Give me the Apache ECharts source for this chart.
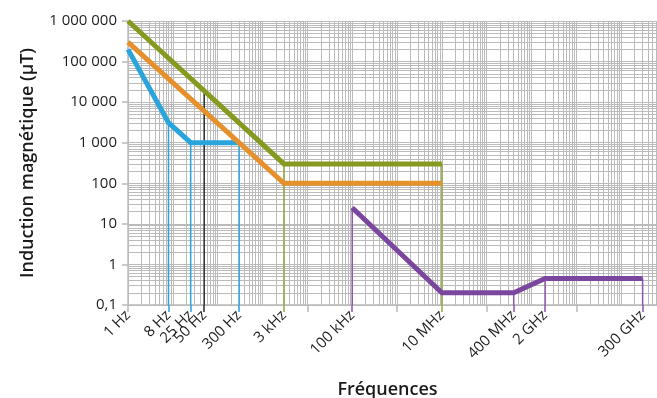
<!DOCTYPE html>
<html><head><meta charset="utf-8">
<script src="https://cdn.jsdelivr.net/npm/echarts@6/dist/echarts.min.js"></script>
<style>html,body{margin:0;padding:0;background:#fff}#c{width:657px;height:398px}</style>
</head><body><div id="c"></div>
<script>
// ---- axis ticks / labels ----
const freqTickValues = [1, 8, 25, 50, 300, 3000, 1e5, 1e7, 4e8, 2e9, 3e11];
const freqTickLabels = ['1 Hz', '8 Hz', '25 Hz', '50 Hz', '300 Hz', '3 kHz', '100 kHz', '10 MHz', '400 MHz', '2 GHz', '300 GHz'];
const yTickValues = [0.1, 1, 10, 100, 1000, 1e4, 1e5, 1e6];
const yTickLabels = ['0,1', '1', '10', '100', '1 000', '10 000', '100 000', '1 000 000'];
const grayTickFreqs = [1, 1e4, 1e6, 1e8, 1e10];

// ---- series (frequency in Hz, induction in µT) ----
const blueFreq = [1, 8, 25, 300];
const blueB = [200000, 3125, 1000, 1000];
const orangeFreq = [1, 3000, 1e7];
const orangeB = [300000, 100, 100];
const greenFreq = [1, 3000, 1e7];
const greenB = [1000000, 300, 300];
const purpleFreq = [1e5, 1e7, 4e8, 2e9, 3e11];
const purpleB = [25, 0.2, 0.2, 0.45, 0.45];

// ---- vertical drop lines ----
const blueDropFreq = [8, 25, 300];
const blueDropB = [3125, 1000, 1000];
const blackDropFreq = [50];
const blackDropB = [20000];
const greenDropFreq = [3000, 1e7];
const greenDropB = [300, 300];
const purpleDropFreq = [1e5, 4e8, 2e9, 3e11];
const purpleDropB = [25, 0.2, 0.45, 0.45];

const X_MIN = 1, X_MAX = 6.27e11, Y_MIN = 0.1, Y_MAX = 1e6;
const FONT = 'Open Sans';
const C_BLUE = '#2aa4dc', C_ORANGE = '#e6902b', C_GREEN = '#879a1f', C_PURPLE = '#7b479e';
const C_GRID = '#bbbbbb';

// log grid positions (1..9 per decade)
const gridX = [];
for (let d = 0; d <= 11; d++) for (let m = 1; m <= 9; m++) { const v = m * Math.pow(10, d); if (v <= X_MAX) gridX.push(v); }
const gridY = [];
for (let d = -1; d <= 5; d++) for (let m = 1; m <= 9; m++) gridY.push(+(m * Math.pow(10, d)).toPrecision(6));
gridY.push(1e6);

function findLabel(vals, labs, v) {
  const i = vals.findIndex(t => Math.abs(Math.log10(t) - Math.log10(v)) < 1e-6);
  return i >= 0 ? labs[i] : '';
}
const zip = (a, b) => a.map((x, i) => [x, b[i]]);

function tickAxis(values, color) {
  return {
    type: 'log', logBase: 10, min: X_MIN, max: X_MAX, position: 'bottom',
    axisLine: { show: false }, axisLabel: { show: false }, splitLine: { show: false },
    axisTick: { show: true, customValues: values, length: 7, lineStyle: { color: color, width: 1.5 } }
  };
}

const series = [];
function dropSeries(fs, bs, color, width) {
  fs.forEach((f, i) => {
    series.push({
      type: 'line', xAxisIndex: 0, yAxisIndex: 0, symbol: 'none', silent: true, z: 1,
      lineStyle: { color: color, width: width },
      data: [[f, bs[i]], [f, Y_MIN]]
    });
  });
}
dropSeries(blueDropFreq, blueDropB, C_BLUE, 1.5);
dropSeries(blackDropFreq, blackDropB, '#2b2b2b', 1.5);
dropSeries(greenDropFreq, greenDropB, '#97a83a', 1.5);
dropSeries(purpleDropFreq, purpleDropB, '#8a55ab', 1.5);

function mainSeries(fs, bs, color) {
  series.push({
    type: 'line', xAxisIndex: 0, yAxisIndex: 0, symbol: 'none', z: 3,
    lineStyle: { color: color, width: 5, cap: 'butt', join: 'miter' },
    data: zip(fs, bs)
  });
}
mainSeries(blueFreq, blueB, C_BLUE);
mainSeries(orangeFreq, orangeB, C_ORANGE);
mainSeries(greenFreq, greenB, C_GREEN);
mainSeries(purpleFreq, purpleB, C_PURPLE);

const chart = echarts.init(document.getElementById('c'), null, { renderer: 'canvas' });
chart.setOption({
  animation: false,
  backgroundColor: '#ffffff',
  grid: { left: 128, right: 0, top: 21, bottom: 93, containLabel: false, outerBoundsMode: 'none' },
  xAxis: [
    {
      type: 'log', logBase: 10, min: X_MIN, max: X_MAX, position: 'bottom',
      axisLine: { show: true, lineStyle: { color: C_GRID, width: 1.5 } },
      axisTick: { show: true, customValues: grayTickFreqs, length: 7, lineStyle: { color: C_GRID, width: 1.5 } },
      axisLabel: {
        show: true, customValues: freqTickValues, rotate: 45, margin: 8,
        fontFamily: FONT, fontSize: 15, color: '#1e1e1e',
        formatter: v => findLabel(freqTickValues, freqTickLabels, v)
      },
      splitLine: { show: false },
      name: 'Fréquences', nameLocation: 'middle', nameGap: 76,
      nameTextStyle: { fontFamily: FONT, fontSize: 18, fontWeight: 600, color: '#1a1a1a', padding: [0, 10, 0, 0] }
    },
    {
      type: 'log', logBase: 10, min: X_MIN, max: X_MAX, position: 'bottom',
      axisLine: { show: false }, axisLabel: { show: false },
      axisTick: { show: false, customValues: gridX },
      splitLine: { show: true, lineStyle: { color: C_GRID, width: 1 } }
    },
    tickAxis(blueDropFreq, C_BLUE),
    tickAxis(blackDropFreq, '#2b2b2b'),
    tickAxis(greenDropFreq, '#97a83a'),
    tickAxis(purpleDropFreq, '#8a55ab')
  ],
  yAxis: [
    {
      type: 'log', logBase: 10, min: Y_MIN, max: Y_MAX, position: 'left',
      axisLine: { show: true, lineStyle: { color: C_GRID, width: 1.5 } },
      axisTick: { show: true, customValues: yTickValues, length: 6, lineStyle: { color: C_GRID, width: 1.5 } },
      axisLabel: {
        show: true, customValues: yTickValues, margin: 11,
        fontFamily: FONT, fontSize: 15, color: '#1e1e1e',
        formatter: v => findLabel(yTickValues, yTickLabels, v)
      },
      splitLine: { show: false },
      name: 'Induction magnétique (µT)', nameLocation: 'middle', nameGap: 91,
      nameTextStyle: { fontFamily: FONT, fontSize: 18, fontWeight: 600, color: '#1a1a1a' }
    },
    {
      type: 'log', logBase: 10, min: Y_MIN, max: Y_MAX, position: 'left',
      axisLine: { show: false }, axisLabel: { show: false },
      axisTick: { show: false, customValues: gridY },
      splitLine: { show: true, lineStyle: { color: C_GRID, width: 1 } }
    }
  ],
  series: series
});
</script>
</body></html>
